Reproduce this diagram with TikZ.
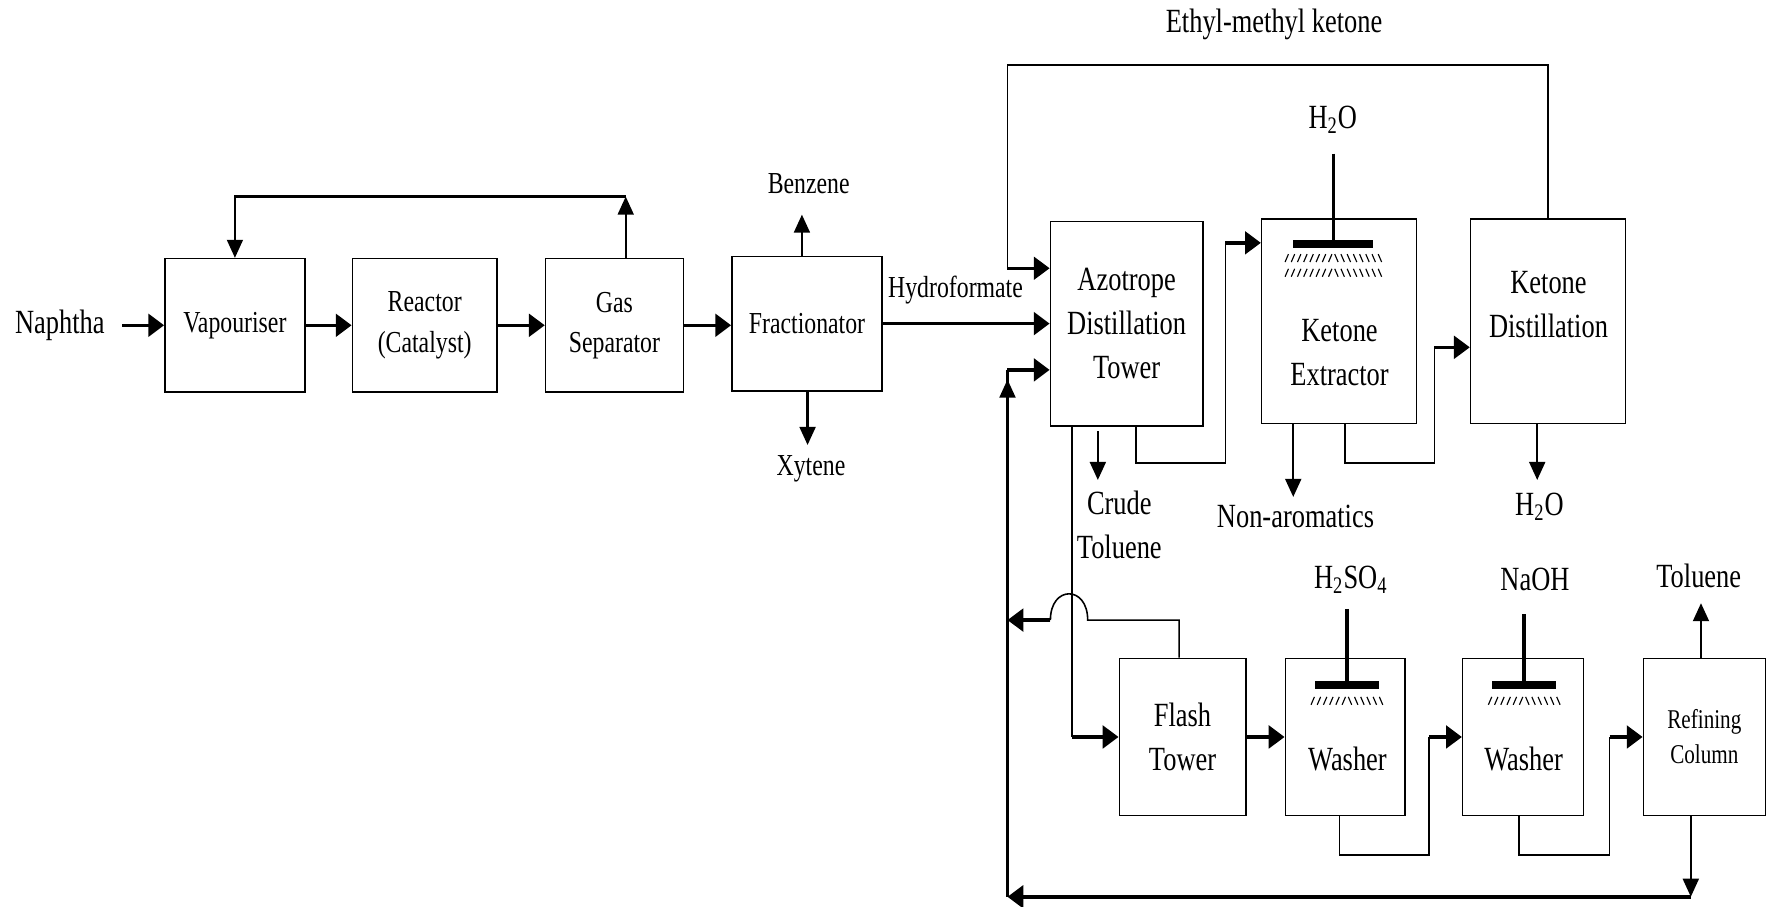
\documentclass[tikz,border=0pt]{standalone}
\usepackage{fontspec}
\setmainfont{Liberation Serif}[FakeStretch=0.78]
\usetikzlibrary{arrows.meta}

\begin{document}
\begin{tikzpicture}[x=0.5pt, y=-0.5pt,
  box/.style={draw, line width=0.7pt, inner sep=0pt, align=center},
  txt/.style={inner sep=0pt, align=center},
  fbig/.style={font=\fontsize{15}{19.5}\selectfont},
  fmid/.style={font=\fontsize{13.5}{17.75}\selectfont},
  fsm/.style={font=\fontsize{12}{15.5}\selectfont},
  flow/.style={line width=1.5pt, -{Triangle[length=7pt,width=10pt]}},
  vflow/.style={line width=1.1pt, -{Triangle[length=8pt,width=7pt]}},
  link/.style={line width=0.7pt},
  pipe/.style={line width=1.6pt},
  plate/.style={fill, inner sep=0pt, minimum height=3.5pt},
  hatch/.style={line width=0.5pt}]
  \useasboundingbox (0,0) rectangle (1568,803);
  % 原料
  \node[txt,fbig] (naph) at (53,288) {Naphtha};
  % 前段设备
  \node[box,fmid,minimum width=62pt,minimum height=59pt] (vap) at (208,288) {Vapouriser};
  \node[box,fmid,minimum width=64pt,minimum height=59pt] (reac) at (376,288) {Reactor\\(Catalyst)};
  \node[box,fmid,minimum width=61pt,minimum height=59pt] (gsep) at (544,288) {Gas\\Separator};
  \node[box,fmid,minimum width=66.5pt,minimum height=59.5pt] (frac) at (714.5,286.5) {Fractionator};
  \node[txt,fmid] (benz) at (716,163) {Benzene};
  \node[txt,fmid] (xyt) at (718,415) {Xytene};
  \node[txt,fmid] (hyd) at (846,257) {Hydroformate};
  % 上排塔器
  \node[box,fbig,minimum width=67.5pt,minimum height=90.5pt] (azo) at (997.5,286.5) {Azotrope\\Distillation\\Tower};
  \node[box,minimum width=68.5pt,minimum height=90.5pt] (kext) at (1185.5,284.5) {};
  \node[txt,fbig] (kextt) at (1186,312) {Ketone\\Extractor};
  \node[box,minimum width=68.5pt,minimum height=90.5pt] (kdist) at (1370.5,284.5) {};
  \node[txt,fbig] (kdistt) at (1371,270) {Ketone\\Distillation};
  \node[txt,fbig] (emk) at (1128,22) {Ethyl-methyl ketone};
  \node[txt,fbig] (h2oa) at (1180,106) {H\textsubscript{2}O};
  \node[txt,fbig] (crude) at (991,465) {Crude\\Toluene};
  \node[txt,fbig] (nonar) at (1147,457) {Non-aromatics};
  \node[txt,fbig] (h2ob) at (1363,449) {H\textsubscript{2}O};
  % 下排设备
  \node[box,fbig,minimum width=56pt,minimum height=69.5pt] (flash) at (1047,652.5) {Flash\\Tower};
  \node[box,minimum width=53pt,minimum height=69.5pt] (wash1) at (1191,652.5) {};
  \node[txt,fbig] (wash1t) at (1193,672) {Washer};
  \node[box,minimum width=53.5pt,minimum height=69.5pt] (wash2) at (1348.5,652.5) {};
  \node[txt,fbig] (wash2t) at (1349,672) {Washer};
  \node[box,fsm,minimum width=54pt,minimum height=69.5pt] (refine) at (1509,652.5) {Refining\\Column};
  \node[txt,fbig] (h2so4) at (1196,513) {H\textsubscript{2}SO\textsubscript{4}};
  \node[txt,fbig] (naoh) at (1359,513) {NaOH};
  \node[txt,fbig] (tol) at (1504,510) {Toluene};
  % 喷淋板
  \node[plate,minimum width=35.5pt] (kbar) at (1180.5,216) {};
  \node[plate,minimum width=28.5pt] (sbar) at (1192.5,606.5) {};
  \node[plate,minimum width=28.5pt] (nbar) at (1349.5,606.5) {};
  \foreach \cx/\cy/\n in {1180.5/225/8, 1180.5/238/8, 1192.5/617/6, 1349.5/617/6}
    \foreach \i in {1,...,\n} {
      \draw[hatch] ({\cx-(\i-0.5)*5.5+1.5},\cy) -- ++(-3,7);
      \draw[hatch] ({\cx+(\i-0.5)*5.5-1.5},\cy) -- ++(3,7);
    }
  \coordinate (p1) at (1180.5,136);
  \coordinate (p2) at (1192.5,539);
  \coordinate (p3) at (1349.5,544);
  \draw[pipe] (p1) -- (kbar.north);
  \draw[pipe] (p2) -- (sbar.north);
  \draw[pipe] (p3) -- (nbar.north);
  % 主流程
  \draw[flow, shorten <=7.5pt] (naph.east) -- (vap.west);
  \draw[flow] (vap.east) -- (reac.west);
  \draw[flow] (reac.east) -- (gsep.west);
  \draw[flow] (gsep.east) -- (gsep.east -| frac.west);
  % 循环气
  \coordinate (rtop) at (554,174);
  \draw[vflow, line width=1pt] (gsep.north -| rtop) -- (rtop);
  \draw[vflow, line width=1pt] (rtop) -| (vap.north);
  % 分馏产品
  \coordinate (bt) at (710,190);
  \coordinate (xt) at (715,394);
  \draw[vflow] (frac.north -| bt) -- (bt);
  \draw[vflow] (frac.south -| xt) -- (xt);
  \draw[flow] (frac.east) -- (frac.east -| azo.west);
  % 甲乙酮回流
  \coordinate (etop) at (892,57.5);
  \coordinate (a1) at (892,237.5);
  \draw[link] (kdist.north) |- (etop) -- (a1);
  \draw[flow] (a1) -- (a1 -| azo.west);
  % 共沸塔到萃取器
  \coordinate (b1) at (1006,410);
  \coordinate (b2) at (1085,215);
  \draw[link] (azo.south -| b1) -- (b1) -| (b2);
  \draw[flow] (b2) -- (b2 -| kext.west);
  % 粗甲苯
  \coordinate (ct) at (972,425);
  \draw[vflow, shorten <=2pt] (azo.south -| ct) -- (ct);
  \coordinate (c1) at (949,652.5);
  \draw[link] (azo.south -| c1) -- (c1);
  \draw[flow] (c1) -- (flash.west);
  % 闪蒸塔顶
  \coordinate (f1) at (1044,549);
  \coordinate (f2) at (963,549);
  \coordinate (f3) at (930,549);
  \coordinate (f4) at (892,549);
  \draw[link] (flash.north -| f1) -- (f1) -- (f2) .. controls +(0,-31) and +(0,-31) .. (f3);
  \draw[flow] (f3) -- (f4);
  % 萃取器出口
  \coordinate (nt) at (1145,440);
  \draw[vflow] (kext.south -| nt) -- (nt);
  \coordinate (d1) at (1191,410);
  \coordinate (d2) at (1270,307.5);
  \draw[link] (kext.south -| d1) -- (d1) -| (d2);
  \draw[flow] (d2) -- (d2 -| kdist.west);
  \coordinate (ht) at (1361,425);
  \draw[vflow] (kdist.south -| ht) -- (ht);
  % 洗涤段
  \draw[flow] (flash.east) -- (wash1.west);
  \coordinate (w1) at (1186,757);
  \coordinate (w2) at (1265,652.5);
  \draw[link] (wash1.south -| w1) -- (w1) -| (w2);
  \draw[flow] (w2) -- (wash2.west);
  \coordinate (w3) at (1345,757);
  \coordinate (w4) at (1425,652.5);
  \draw[link] (wash2.south -| w3) -- (w3) -| (w4);
  \draw[flow] (w4) -- (refine.west);
  \coordinate (tt) at (1506,534);
  \draw[vflow] (refine.north -| tt) -- (tt);
  % 精制塔底回流
  \coordinate (rb) at (1497,794);
  \coordinate (lb) at (892,794);
  \coordinate (a3) at (892,327.5);
  \coordinate (a3t) at (892,336);
  \draw[vflow] (refine.south -| rb) -- (rb);
  \draw[flow] (rb) -- (lb);
  \draw[line width=1.1pt] (lb) -- (a3);
  \draw[vflow] (lb) -- (a3t);
  \draw[flow] (a3) -- (a3 -| azo.west);
\end{tikzpicture}
\end{document}
